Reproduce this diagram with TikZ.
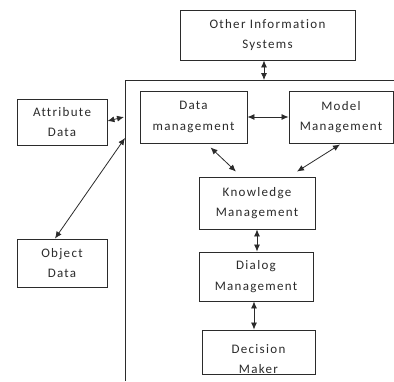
\documentclass[tikz,border=0pt]{standalone}
\usepackage{fontspec}
\setmainfont[LetterSpace=10, Ligatures=NoCommon]{Carlito}
\usetikzlibrary{arrows.meta}
\definecolor{ink}{HTML}{2B2B2B}
\tikzset{
  box/.style={draw=ink, line width=0.9pt, align=center, inner sep=0pt,
    font=\fontsize{13}{20.5}\selectfont, text=ink},
  link/.style={draw=ink, line width=0.8pt, {Latex[length=7pt,width=6pt]}-{Latex[length=7pt,width=6pt]}},
}
\begin{document}
\begin{tikzpicture}[x=1pt,y=-1pt]
\useasboundingbox (0,0) rectangle (394,381);
\fill[white] (0,0) rectangle (394,381);

% outer system frame
\coordinate (fbl) at (125,381);
\coordinate (ftl) at (125,80);
\coordinate (ftr) at (394,80);
\draw[ink, line width=0.9pt] (fbl) -- (ftl) -- (ftr);

% boxes
\node[box, minimum width=175pt, minimum height=50pt] (ois) at (267.5,35) {Other Information\\Systems};
\node[box, minimum width=90pt, minimum height=46pt] (attr) at (62,122) {Attribute\\Data};
\node[box, minimum width=90pt, minimum height=48pt] (obj) at (62,263) {Object\\Data};
\node[box, minimum width=107pt, minimum height=52pt] (dm) at (193.5,117) {Data\\management};
\node[box, minimum width=104pt, minimum height=52pt] (mm) at (341,117) {Model\\Management};
\node[box, minimum width=116pt, minimum height=52pt] (km) at (257,203) {Knowledge\\Management};
\node[box, minimum width=114pt, minimum height=49pt] (dlg) at (256,276.5) {Dialog\\Management};
\node[box, minimum width=113pt, minimum height=44pt] (dec) at (258.5,352) {};
\begin{scope}
  \clip ([shift={(1,1)}]dec.north west) rectangle ([shift={(-1,-1.5)}]dec.south east);
  \node[box, draw=none] at (258.5,359) {Decision\\Maker};
\end{scope}

% attachment points on the frame
\coordinate (ftop) at (264,80);
\coordinate (fatt) at (124,117);
\coordinate (fobj) at (125,138);

% connectors
\draw[link] (ois.south -| ftop) -- (ftop);
\draw[link] ([yshift=1pt]attr.east) -- (fatt);
\draw[link] (fobj) -- ([xshift=-7pt]obj.north);
\draw[link] (dm.east) -- (mm.west);
\draw[link] ([shift={(17,4)}]dm.south) -- ([shift={(-21,-5)}]km.north);
\draw[link] ([shift={(-1,1)}]mm.south) -- ([shift={(40,-5)}]km.north);
\draw[link] (km.south) -- (km.south |- dlg.north);
\draw[link] ([xshift=-2pt]dlg.south) -- ([xshift=-2pt]dlg.south |- dec.north);
\end{tikzpicture}
\end{document}
